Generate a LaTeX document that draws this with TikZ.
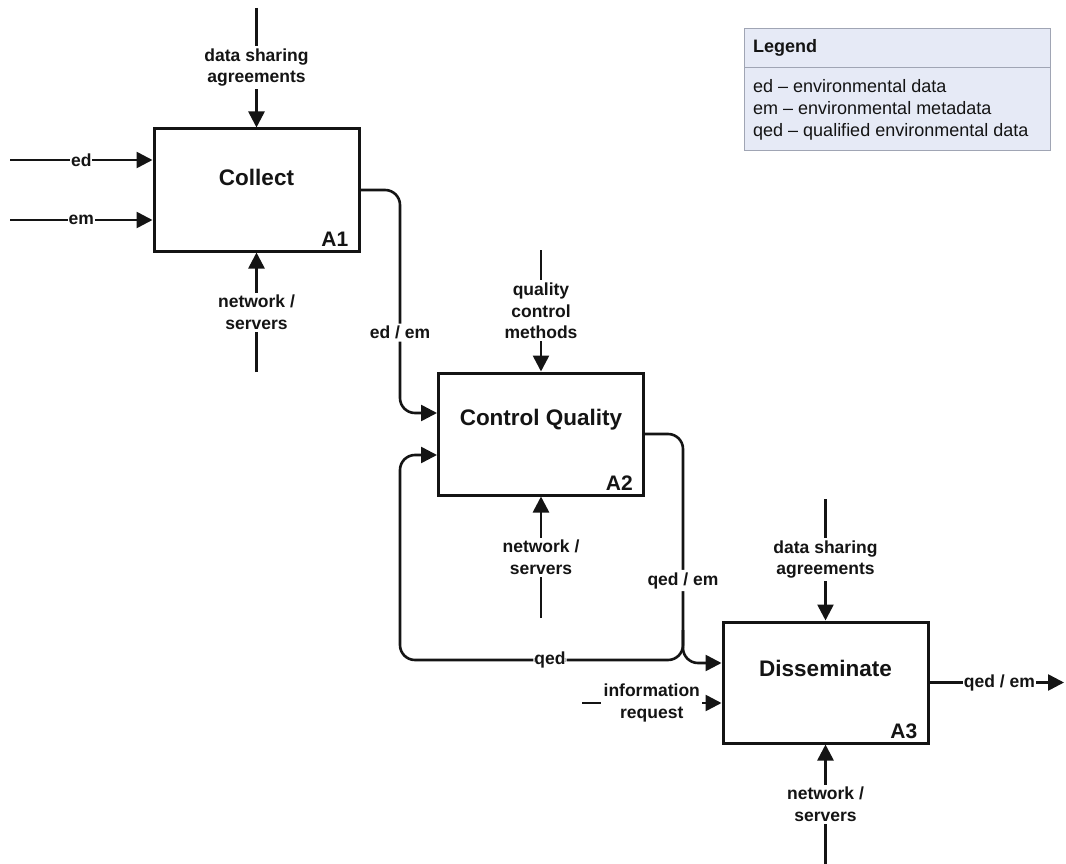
\documentclass[tikz,border=0pt]{standalone}
\usepackage{fontspec}
\setmainfont{Liberation Sans}
\usetikzlibrary{arrows.meta}
\definecolor{legfill}{RGB}{230,234,246}
\definecolor{legborder}{RGB}{160,165,180}
\definecolor{ink}{RGB}{20,20,20}
\begin{document}
\begin{tikzpicture}[x=1pt,y=-1pt,
  box/.style={draw=ink, line width=3pt, fill=white, minimum width=205pt, minimum height=122pt, inner sep=0pt},
  ttl/.style={font=\fontsize{22.5}{26}\selectfont\bfseries, text=ink},
  num/.style={font=\fontsize{21}{24}\selectfont\bfseries, anchor=base east, inner sep=0pt, text=ink},
  con/.style={draw=ink, line width=2.6pt, line join=round},
  arr/.style={con, -{Triangle[length=16pt,width=16pt]}},
  lab/.style={font=\fontsize{17.5}{21.5}\selectfont\bfseries, fill=white, align=center, inner sep=2.5pt, text=ink},
  legtxt/.style={font=\fontsize{18}{22}\selectfont, anchor=west, align=left, inner sep=0pt, text=ink}
]
\useasboundingbox (0,0) rectangle (1066,864);

% legend
\node[draw=legborder, fill=legfill, line width=1pt, minimum width=306pt, minimum height=122pt, anchor=north west, inner sep=0pt] (leg) at (744,28) {};
\draw[legborder, line width=1pt] ([yshift=-40pt]leg.north west) -- ([yshift=-40pt]leg.north east);
\node[legtxt, font=\fontsize{18}{22}\selectfont\bfseries] (legt) at (753,47.5) {Legend};
\node[legtxt] (legb) at (753,110) {ed – environmental data\\em – environmental metadata\\qed – qualified environmental data};

% boxes
\node[box] (a1) at (256.5,190) {};
\node[box] (a2) at (541,434) {};
\node[box, minimum height=121pt] (a3) at (825.5,682.5) {};
\node[ttl] (t1) at (256.5,177) {Collect};
\node[ttl] (t2) at (541,420) {Control Quality};
\node[ttl] (t3) at (825.5,668) {Disseminate};
\node[num] (n1) at ([xshift=-12pt,yshift=6pt]a1.south east) {A1};
\node[num] (n2) at ([xshift=-12pt,yshift=6pt]a2.south east) {A2};
\node[num] (n3) at ([xshift=-12pt,yshift=6pt]a3.south east) {A3};

% coordinates
\coordinate (edS) at (10,160);
\coordinate (emS) at (10,220);
\coordinate (c1S) at (256.5,8);
\coordinate (m1S) at (256.5,372);
\coordinate (c2S) at (541,250);
\coordinate (m2S) at (541,618);
\coordinate (c3S) at (825.5,499);
\coordinate (m3S) at (825.5,864);
\coordinate (irS) at (582,703);
\coordinate (outE) at (1064,682.5);
\coordinate (a2in1) at ([yshift=21pt]a2.west);
\coordinate (a2in2) at ([yshift=-21pt]a2.west);
\coordinate (a3in1) at ([yshift=19.5pt]a3.west);
\coordinate (a3in2) at ([yshift=-20.5pt]a3.west);
\coordinate (fork) at (683,630);

% Collect
\draw[arr] (edS) -- (edS -| a1.west) node[lab, midway, inner sep=1pt] {ed};
\draw[arr] (emS) -- (emS -| a1.west) node[lab, midway, inner sep=1pt] {em};
\draw[arr] (c1S) -- (a1.north) node[lab, midway] {data sharing\\agreements};
\draw[arr] (m1S) -- (a1.south) node[lab, midway] {network /\\servers};

% Control Quality
\draw[arr] (c2S) -- (a2.north) node[lab, midway] {quality\\control\\methods};
\draw[arr] (m2S) -- (a2.south) node[lab, midway] {network /\\servers};

% Disseminate
\draw[arr] (c3S) -- (a3.north) node[lab, midway] {data sharing\\agreements};
\draw[arr] (m3S) -- (a3.south) node[lab, midway] {network /\\servers};
\draw[arr] (irS) -- (a3in2) node[lab, midway] {information\\request};
\draw[arr] (a3.east) -- (outE) node[lab, pos=0.52, inner sep=1pt] {qed / em};

% flows
\draw[arr, rounded corners=15pt] (a1.east) -| node[lab, pos=0.82] {ed / em} (400,413) -- (a2in1);
\draw[arr, rounded corners=15pt] (a2.east) -| node[lab, pos=0.82] {qed / em} (683,663) -- (a3in1);
\draw[arr, rounded corners=15pt] (fork) -- (683,660) -- node[lab, pos=0.47, inner sep=1pt] {qed} (400,660) -- (400,455) -- (a2in2);
\end{tikzpicture}
\end{document}
